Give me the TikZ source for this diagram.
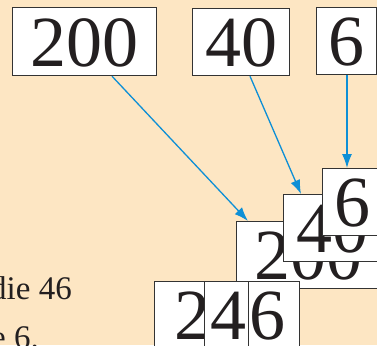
\documentclass[tikz,border=0pt]{standalone}
\usepackage{fontspec}
\setmainfont{Liberation Serif}
\usetikzlibrary{arrows.meta}
\definecolor{bg}{HTML}{FDE6C3}
\definecolor{arr}{HTML}{0D8FD6}
\definecolor{bord}{HTML}{333333}
\definecolor{ink}{HTML}{231F20}
\begin{document}
\begin{tikzpicture}[x=1pt,y=-1pt,
  digitbox/.style={draw=bord, line width=1.2pt, fill=white, inner sep=0pt,
    minimum height=67pt, text height=58pt, text depth=9pt,
    font=\fontsize{72}{72}\selectfont, text=ink, anchor=north west},
  bodytext/.style={inner sep=0pt, font=\fontsize{33}{40}\selectfont, text=ink},
  pointer/.style={draw=arr, line width=1.3pt, -{Latex[length=14pt,width=10pt]}}]
\fill[bg] (0,0) rectangle (377,345);
\useasboundingbox (0,0) rectangle (377,345);
% left text (clipped)
\node[bodytext, anchor=base east] (line1) at (72,299) {die 46};
\node[bodytext, anchor=base west] (line2) at (-9,348) {e 6.};
% stacked boxes
\node[digitbox, minimum width=144pt] (b200) at (236,221) {200};
\node[digitbox, minimum width=97pt] (b40) at (283,194) {40};
\node[digitbox, minimum width=60pt] (b6) at (322,168) {6};
% result row
\node[digitbox, minimum width=50pt] (r2) at (154,281) {\hspace*{20pt}2};
\node[digitbox, minimum width=44pt] (r4) at (204,281) {\hspace*{4pt}4};
\node[digitbox, minimum width=51pt] (r6) at (248,281) {6\hspace*{14pt}};
% top boxes
\node[digitbox, minimum width=144pt, minimum height=68pt] (t200) at (12,7) {200};
\node[digitbox, minimum width=97pt, minimum height=66pt] (t40) at (192,8) {40};
\node[digitbox, minimum width=60pt] (t6) at (316,7) {6};
% arrows
\draw[pointer] ([xshift=100pt]t200.south west) -- ([xshift=12pt]b200.north west);
\draw[pointer] ([xshift=58pt]t40.south west) -- ([xshift=18pt]b40.north west);
\draw[pointer] ([xshift=31pt]t6.south west) -- ([xshift=25pt]b6.north west);
\end{tikzpicture}
\end{document}
